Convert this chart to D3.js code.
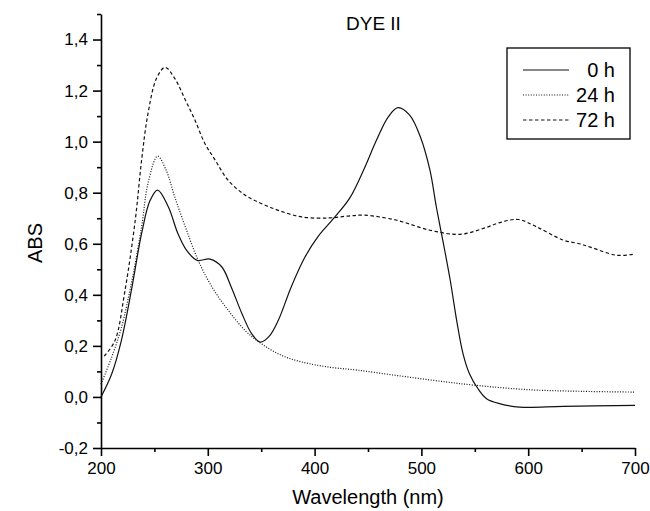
<!DOCTYPE html>
<html>
  <head>
    <meta charset="utf-8">
    <script src="https://d3js.org/d3.v7.min.js"></script>
    <style>
      body { margin: 0; background: #fff; }
      svg { font-family: "Liberation Sans", Arial, sans-serif; }
      .axis path, .axis line { fill: none; stroke: #000; stroke-width: 1.6; }
      .axis text { font-size: 17px; fill: #000; }
      .curve { fill: none; stroke: #111; stroke-width: 1.2; }
    </style>
  </head>
  <body>
    <script>
      // spectra: [wavelength nm, absorbance]
      var h0 = [[200,0.0],[210,0.09],[219,0.22],[229,0.43],[238,0.64],[246,0.77],[253,0.81],[263,0.745],
        [272,0.64],[280,0.575],[290,0.535],[302,0.54],[313,0.51],[322,0.43],[332,0.326],[341,0.248],
        [349,0.215],[357,0.235],[366,0.30],[378,0.43],[391,0.548],[403,0.627],[418,0.70],[433,0.78],
        [446,0.89],[458,1.006],[469,1.097],[478,1.133],[489,1.104],[499,1.019],[508,0.888],[514,0.744],
        [520,0.614],[527,0.457],[533,0.30],[539,0.169],[545,0.091],[553,0.032],[561,-0.007],[574,-0.027],
        [592,-0.04],[633,-0.037],[700,-0.033]];
      var h24 = [[200,0.05],[210,0.156],[219,0.27],[229,0.457],[238,0.666],[244,0.836],[253,0.943],
        [261,0.888],[269,0.784],[279,0.666],[291,0.535],[304,0.43],[319,0.34],[335,0.26],[350,0.209],
        [369,0.163],[388,0.137],[413,0.117],[440,0.105],[477,0.084],[515,0.063],[552,0.045],[602,0.028],
        [650,0.022],[700,0.019]];
      var h72 = [[203,0.16],[213,0.22],[222,0.405],[232,0.69],[238,0.927],[244,1.11],[252,1.248],
        [260,1.291],[269,1.248],[279,1.163],[288,1.084],[297,0.995],[307,0.927],[319,0.849],[335,0.79],
        [350,0.758],[366,0.731],[388,0.705],[413,0.701],[430,0.708],[446,0.712],[477,0.692],[508,0.653],
        [536,0.637],[558,0.66],[575,0.685],[591,0.695],[608,0.666],[633,0.614],[648,0.6],[658,0.587],
        [683,0.555],[700,0.56]];
      var seriesNames = ["0 h", "24 h", "72 h"];
      var seriesData = [h0, h24, h72];
      var seriesDash = [null, "1,1.6", "3.5,2.5"];
      var xTicks = [200, 300, 400, 500, 600, 700];
      var yTicks = [-0.2, 0, 0.2, 0.4, 0.6, 0.8, 1.0, 1.2, 1.4];

      var W = 650, H = 511;
      var margin = { top: 14, right: 15, bottom: 63, left: 101 },
        width = W - margin.left - margin.right,
        height = H - margin.top - margin.bottom;

      var x = d3.scaleLinear().domain([200, 700]).range([0, width]);
      var y = d3.scaleLinear().domain([-0.2, 1.5]).range([height, 0]);

      var svg = d3.select("body").append("svg")
        .attr("width", W)
        .attr("height", H);
      var g = svg.append("g")
        .attr("transform", "translate(" + margin.left + "," + margin.top + ")");

      // comma decimals and a plain hyphen for negatives
      var locale = d3.formatLocale({ decimal: ",", thousands: ".", grouping: [3], currency: ["", ""], minus: "-" });
      var fmt = locale.format(".1f");

      // minor ticks
      g.append("g")
        .attr("class", "axis")
        .attr("transform", "translate(0," + height + ")")
        .call(d3.axisBottom(x).tickValues(d3.range(250, 700, 100)).tickSize(4).tickFormat(""))
        .select(".domain").remove();
      g.append("g")
        .attr("class", "axis")
        .call(d3.axisLeft(y).tickValues(d3.range(-0.1, 1.55, 0.2)).tickSize(4).tickFormat(""))
        .select(".domain").remove();

      // major axes
      g.append("g")
        .attr("class", "axis")
        .attr("transform", "translate(0," + height + ")")
        .call(d3.axisBottom(x).tickValues(xTicks).tickSize(8).tickSizeOuter(0).tickPadding(6));
      g.append("g")
        .attr("class", "axis")
        .call(d3.axisLeft(y).tickValues(yTicks).tickFormat(fmt).tickSize(8).tickSizeOuter(0).tickPadding(5));

      var line = d3.line()
        .x(function(d) { return x(d[0]); })
        .y(function(d) { return y(d[1]); })
        .curve(d3.curveCatmullRom.alpha(0.5));

      seriesData.forEach(function(s, i) {
        g.append("path")
          .datum(s)
          .attr("class", "curve")
          .attr("stroke-dasharray", seriesDash[i])
          .attr("d", line);
      });

      // titles
      svg.append("text")
        .attr("x", 346).attr("y", 30)
        .style("font-size", "19px")
        .text("DYE II");
      svg.append("text")
        .attr("x", margin.left + width / 2).attr("y", 504)
        .attr("text-anchor", "middle")
        .style("font-size", "20px")
        .text("Wavelength (nm)");
      svg.append("text")
        .attr("transform", "translate(42,243) rotate(-90)")
        .attr("text-anchor", "middle")
        .style("font-size", "20px")
        .text("ABS");

      // legend
      var leg = svg.append("g").attr("transform", "translate(507,48)");
      leg.append("rect")
        .attr("width", 123).attr("height", 91)
        .attr("fill", "#fff").attr("stroke", "#000").attr("stroke-width", 1.3);
      seriesNames.forEach(function(name, i) {
        var yy = 22 + i * 25;
        leg.append("line")
          .attr("x1", 16).attr("x2", 62).attr("y1", yy).attr("y2", yy)
          .attr("class", "curve")
          .attr("stroke-dasharray", seriesDash[i]);
        leg.append("text")
          .attr("x", 108).attr("y", yy + 7)
          .attr("text-anchor", "end")
          .style("font-size", "20px")
          .text(name);
      });
    </script>
  </body>
</html>
